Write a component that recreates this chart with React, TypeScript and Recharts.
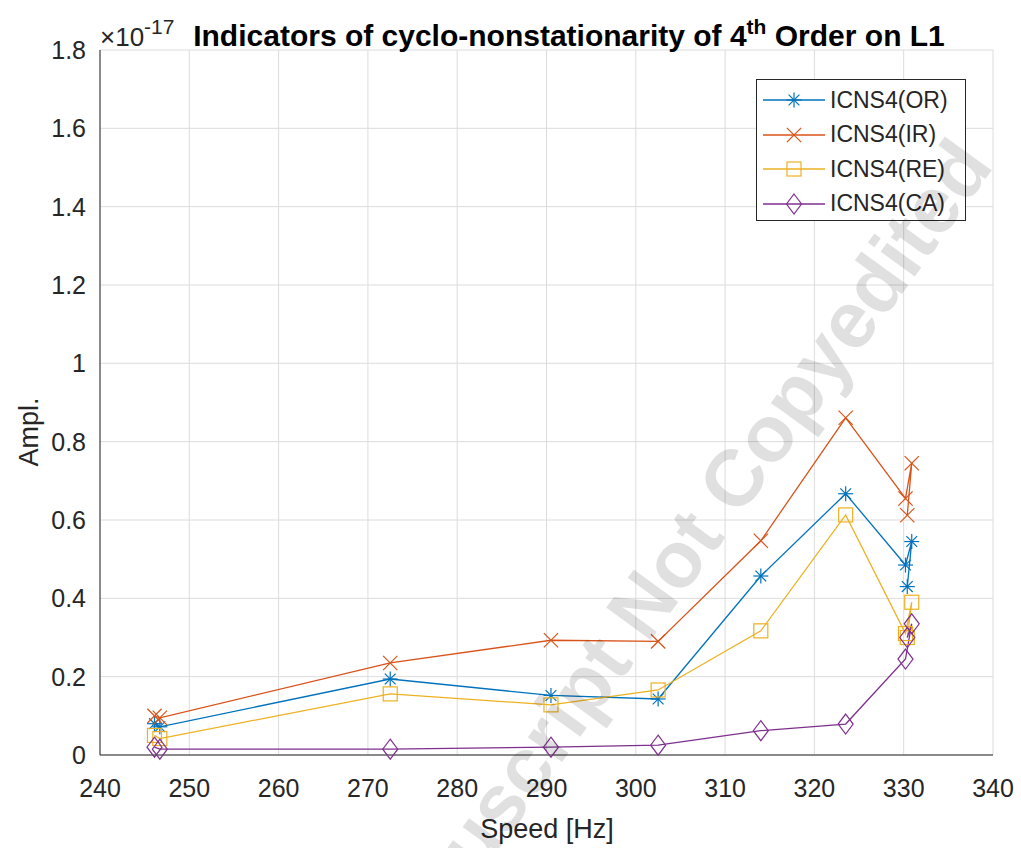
import React from "react";
import { LineChart, Line, XAxis, YAxis, CartesianGrid } from "recharts";

// speed [Hz] of every measurement, in the order MATLAB plotted them
const speeds = [246.1, 246.7, 272.5, 290.5, 302.5, 314, 323.5, 330.2, 330.9, 330.4];
// amplitudes in units of 1e-17
const icnsOR = [0.08, 0.072, 0.194, 0.152, 0.143, 0.457, 0.667, 0.485, 0.545, 0.43];
const icnsIR = [0.1, 0.095, 0.235, 0.293, 0.29, 0.547, 0.861, 0.655, 0.745, 0.612];
const icnsRE = [0.05, 0.042, 0.156, 0.128, 0.166, 0.317, 0.613, 0.31, 0.39, 0.3];
const icnsCA = [0.02, 0.015, 0.015, 0.02, 0.025, 0.062, 0.079, 0.245, 0.335, 0.3];

const xTicks = [240, 250, 260, 270, 280, 290, 300, 310, 320, 330, 340];
const yTicks = [0, 0.2, 0.4, 0.6, 0.8, 1, 1.2, 1.4, 1.6, 1.8];

const series = [
  { key: "or", name: "ICNS4(OR)", color: "#0072BD", marker: "asterisk" },
  { key: "ir", name: "ICNS4(IR)", color: "#D95319", marker: "cross" },
  { key: "re", name: "ICNS4(RE)", color: "#EDB120", marker: "square" },
  { key: "ca", name: "ICNS4(CA)", color: "#7E2F8E", marker: "diamond" },
];

const data = speeds.map((s, i) => ({
  speed: s,
  or: icnsOR[i],
  ir: icnsIR[i],
  re: icnsRE[i],
  ca: icnsCA[i],
}));

const FONT = "'Liberation Sans', Arial, Helvetica, sans-serif";
const INK = "#262626";

function Marker({ type, cx, cy, color }: { type: string; cx: number; cy: number; color: string }) {
  const r = 7.5;
  if (type === "asterisk") {
    const d = r * 0.72;
    return (
      <g stroke={color} strokeWidth={1.2} fill="none">
        <line x1={cx - r} y1={cy} x2={cx + r} y2={cy} />
        <line x1={cx} y1={cy - r} x2={cx} y2={cy + r} />
        <line x1={cx - d} y1={cy - d} x2={cx + d} y2={cy + d} />
        <line x1={cx - d} y1={cy + d} x2={cx + d} y2={cy - d} />
      </g>
    );
  }
  if (type === "cross") {
    const d = r * 0.95;
    return (
      <g stroke={color} strokeWidth={1.2} fill="none">
        <line x1={cx - d} y1={cy - d} x2={cx + d} y2={cy + d} />
        <line x1={cx - d} y1={cy + d} x2={cx + d} y2={cy - d} />
      </g>
    );
  }
  if (type === "square") {
    return <rect x={cx - 7} y={cy - 7} width={14} height={14} stroke={color} strokeWidth={1.2} fill="none" />;
  }
  return (
    <polygon
      points={`${cx},${cy - 10} ${cx + 7.5},${cy} ${cx},${cy + 10} ${cx - 7.5},${cy}`}
      stroke={color}
      strokeWidth={1.2}
      fill="none"
    />
  );
}

function LegendBox() {
  return (
    <div
      style={{
        position: "absolute",
        left: 756,
        top: 79,
        width: 210,
        height: 142,
        border: `1px solid ${INK}`,
        background: "#fff",
        fontFamily: FONT,
        fontSize: 23,
        color: INK,
        boxSizing: "border-box",
        paddingTop: 3,
      }}
    >
      {series.map((s) => (
        <div key={s.key} style={{ display: "flex", alignItems: "center", height: 34.5 }}>
          <svg width={72} height={30} style={{ flex: "none" }}>
            <line x1={6} y1={15} x2={68} y2={15} stroke={s.color} strokeWidth={1.3} />
            <Marker type={s.marker} cx={37} cy={15} color={s.color} />
          </svg>
          <span style={{ marginLeft: 1, whiteSpace: "nowrap" }}>{s.name}</span>
        </div>
      ))}
    </div>
  );
}

const tickStyle = { fontSize: 25, fill: INK, fontFamily: FONT };

export default function App() {
  return (
    <div style={{ position: "absolute", left: 0, top: 0, width: 1021, height: 848, background: "#fff", overflow: "hidden" }}>
      <LineChart width={1021} height={848} data={data} margin={{ top: 50, right: 28, left: 30, bottom: 53 }}>
        <CartesianGrid stroke="#dcdcdc" strokeWidth={1} horizontalValues={yTicks} verticalValues={xTicks} />
        <XAxis
          dataKey="speed"
          type="number"
          domain={[240, 340]}
          ticks={xTicks}
          tick={tickStyle}
          tickLine={false}
          axisLine={{ stroke: INK }}
          tickMargin={18}
          height={40}
          allowDataOverflow
        />
        <XAxis xAxisId="bTicks" dataKey="speed" type="number" domain={[240, 340]} ticks={xTicks} mirror height={0} tick={false} tickSize={9} tickLine={{ stroke: INK }} axisLine={false} />
        <XAxis xAxisId="top" dataKey="speed" type="number" domain={[240, 340]} ticks={xTicks} orientation="top" mirror height={0} tick={false} tickSize={9} tickLine={{ stroke: INK }} axisLine={{ stroke: INK }} />
        <YAxis
          type="number"
          domain={[0, 1.8]}
          ticks={yTicks}
          tick={tickStyle}
          tickLine={false}
          axisLine={{ stroke: INK }}
          tickMargin={8}
          width={70}
          tickFormatter={(v: number) => String(v)}
        />
        <YAxis yAxisId="lTicks" type="number" domain={[0, 1.8]} ticks={yTicks} mirror width={0} tick={false} tickSize={9} tickLine={{ stroke: INK }} axisLine={false} />
        <YAxis yAxisId="right" type="number" domain={[0, 1.8]} ticks={yTicks} orientation="right" mirror width={0} tick={false} tickSize={9} tickLine={{ stroke: INK }} axisLine={{ stroke: INK }} />
        {series.map((s) => (
          <Line
            key={s.key}
            dataKey={s.key}
            name={s.name}
            type="linear"
            stroke={s.color}
            strokeWidth={1.3}
            isAnimationActive={false}
            dot={(p: any) => <Marker key={`${s.key}-${p.index}`} type={s.marker} cx={p.cx} cy={p.cy} color={s.color} />}
            activeDot={false}
          />
        ))}
      </LineChart>
      <LegendBox />
      <svg width={1021} height={848} style={{ position: "absolute", left: 0, top: 0, pointerEvents: "none" }}>
        <text x={100} y={46} fontFamily={FONT} fontSize={26} fill={INK}>
          ×10<tspan dy={-12} fontSize={21}>-17</tspan>
        </text>
        <text x={569} y={46} textAnchor="middle" fontFamily={FONT} fontSize={30} fontWeight="bold" fill="#000">
          Indicators of cyclo-nonstationarity of 4<tspan dy={-12} fontSize={21}>th</tspan>
          <tspan dy={12}> Order on L1</tspan>
        </text>
        <text x={547} y={838} textAnchor="middle" fontFamily={FONT} fontSize={27} fill={INK}>
          Speed [Hz]
        </text>
        <text x={38} y={432} textAnchor="middle" fontFamily={FONT} fontSize={27} fill={INK} transform="rotate(-90 38 432)">
          Ampl.
        </text>
        <text
          x={995}
          y={166}
          textAnchor="end"
          fontFamily={FONT}
          fontSize={80}
          fontWeight="bold"
          fill="#000"
          fillOpacity={0.12}
          transform="rotate(-54 995 166)"
        >
          Manuscript Not Copyedited
        </text>
      </svg>
    </div>
  );
}
